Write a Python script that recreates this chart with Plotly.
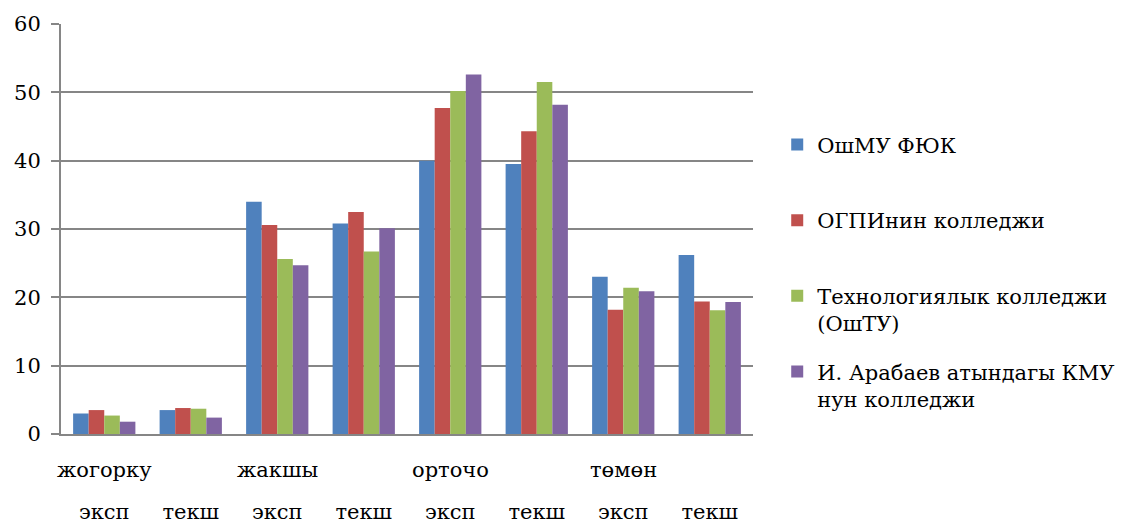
import plotly.graph_objects as go

# Achievement levels (upper label row) and group kinds (lower label row)
levels = ["жогорку", "жакшы", "орточо", "төмөн"]
kinds = ["эксп", "текш"]
tick_labels = [k for _ in levels for k in kinds]

series_names = [
    "ОшМУ ФЮК",
    "ОГПИнин колледжи",
    "Технологиялык колледжи<br>(ОшТУ)",
    "И. Арабаев атындагы КМУ<br>нун колледжи",
]
oshmu = [3.0, 3.5, 34.0, 30.8, 40.0, 39.5, 23.0, 26.2]
ogpi = [3.5, 3.8, 30.6, 32.5, 47.7, 44.3, 18.2, 19.4]
tech = [2.7, 3.7, 25.6, 26.7, 50.2, 51.5, 21.4, 18.1]
arabaev = [1.8, 2.4, 24.7, 30.1, 52.6, 48.2, 20.9, 19.3]
series_values = [oshmu, ogpi, tech, arabaev]
colors = ["#4F81BD", "#C0504D", "#9BBB59", "#8064A2"]

FONT = "DejaVu Serif"
GRID = "#868686"

xpos = list(range(len(tick_labels)))

fig = go.Figure()
for k, (name, vals, col) in enumerate(zip(series_names, series_values, colors)):
    # pad single-line names to two lines so legend rows are evenly spaced
    label = name if "<br>" in name else name + "<br> "
    fig.add_trace(go.Bar(
        x=xpos, y=vals, name=label, legendgroup=f"g{k}",
        marker=dict(color=col, line=dict(width=0)),
    ))

for i, lvl in enumerate(levels):
    fig.add_annotation(
        x=2 * i, y=-0.088, xref="x", yref="paper",
        text=lvl, showarrow=False, yanchor="middle", xanchor="center",
        font=dict(family=FONT, size=21, color="black"),
    )

fig.update_layout(
    width=1125, height=525,
    margin=dict(l=61, r=372, t=23.5, b=91, autoexpand=False),
    paper_bgcolor="white", plot_bgcolor="white",
    barmode="group", bargap=0.28, bargroupgap=0,
    font=dict(family=FONT, size=21, color="black"),
    legend=dict(
        x=1.035, y=0.755, xanchor="left", yanchor="top",
        font=dict(family=FONT, size=21, color="black"),
        tracegroupgap=18, valign="top", itemwidth=30,
    ),
    showlegend=True,
)
fig.update_xaxes(
    range=[-0.5, 7.5], tickvals=xpos, ticktext=tick_labels,
    tickfont=dict(family=FONT, size=21, color="black"),
    showgrid=False, showline=True, linecolor=GRID, linewidth=2,
    ticks="", ticklabelstandoff=58, zeroline=False, automargin=False,
)
fig.update_yaxes(
    range=[0, 60], dtick=10, showgrid=True, gridcolor=GRID, gridwidth=2,
    tickfont=dict(family=FONT, size=21, color="black"),
    showline=True, linecolor=GRID, linewidth=2, ticks="outside",
    ticklen=8, tickcolor=GRID, tickwidth=2, zeroline=False,
    ticklabelstandoff=6, automargin=False,
)

fig.write_html("out.html")
